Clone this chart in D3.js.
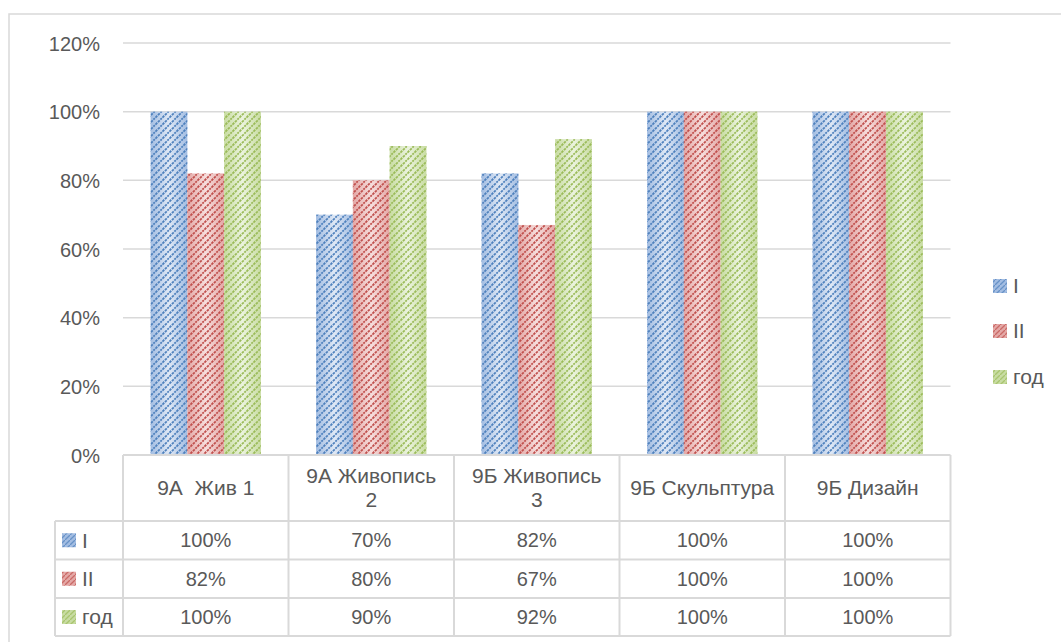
<!DOCTYPE html>
<html><head><meta charset="utf-8">
<script src="https://cdn.jsdelivr.net/npm/d3@7"></script>
<style>
html,body{margin:0;padding:0;background:#fff;}
svg{display:block;font-family:"Liberation Sans",Arial,sans-serif;}
text{white-space:pre;}
</style></head>
<body>
<svg id="chart" width="1061" height="642"></svg>
<script>
const categories = ["9А  Жив 1", "9А Живопись\n2", "9Б Живопись\n3", "9Б Скульптура", "9Б Дизайн"];
const seriesNames = ["I", "II", "год"];
const valuesI   = [1.00, 0.70, 0.82, 1.00, 1.00];
const valuesII  = [0.82, 0.80, 0.67, 1.00, 1.00];
const valuesGod = [1.00, 0.90, 0.92, 1.00, 1.00];
const yTicks = [0, 0.2, 0.4, 0.6, 0.8, 1.0, 1.2];
const tableLabels = [["100%","70%","82%","100%","100%"],["82%","80%","67%","100%","100%"],["100%","90%","92%","100%","100%"]];

(function(){
const series = [valuesI, valuesII, valuesGod];
const palette = [
  {dark:"#4f81bd", edge:"#a3bde2", light:"#dfe8f5"},
  {dark:"#c0504d", edge:"#e4a8a6", light:"#f6dedd"},
  {dark:"#9bbb59", edge:"#c8dca2", light:"#ebf3de"}
];
const txt = "#595959", grid = "#d9d9d9";
const svg = d3.select("#chart");
const defs = svg.append("defs");
palette.forEach((p,i)=>{
  const g = defs.append("linearGradient").attr("id","grad"+i).attr("x1","0").attr("x2","1").attr("y1","0").attr("y2","0");
  g.append("stop").attr("offset","0").attr("stop-color",p.edge);
  g.append("stop").attr("offset","0.5").attr("stop-color",p.light);
  g.append("stop").attr("offset","1").attr("stop-color",p.edge);
  const pat = defs.append("pattern").attr("id","pat"+i).attr("patternUnits","userSpaceOnUse").attr("width",7).attr("height",7);
  pat.append("path").attr("d","M-1,8 L8,-1").attr("stroke",p.dark).attr("stroke-width",1.8).attr("stroke-dasharray","2.5,1");
  pat.append("path").attr("d","M-1,1 L1,-1 M6,8 L8,6").attr("stroke",p.dark).attr("stroke-width",1.8);
  const lp = defs.append("pattern").attr("id","lpat"+i).attr("patternUnits","userSpaceOnUse").attr("width",5).attr("height",5);
  lp.append("rect").attr("width",5).attr("height",5).attr("fill",p.edge);
  lp.append("path").attr("d","M-1,6 L6,-1").attr("stroke",p.dark).attr("stroke-width",1.3).attr("stroke-opacity",0.7);
});

svg.append("path").attr("d","M9,642 L9,14 L1061,14").attr("fill","none").attr("stroke",grid).attr("stroke-width",1.5);

const pL = 123, pR = 950.5, pT = 43, pB = 455;
const x = d3.scaleBand().domain(categories).range([pL,pR]).paddingInner(0).paddingOuter(0);
const y = d3.scaleLinear().domain([0,1.2]).range([pB,pT]);
const sub = d3.scaleBand().domain(d3.range(3)).range([0,x.bandwidth()]).paddingInner(0).paddingOuter(0.75);

svg.append("g").selectAll("line").data(yTicks.filter(t=>t>0)).join("line")
  .attr("x1",pL).attr("x2",pR).attr("y1",d=>y(d)).attr("y2",d=>y(d))
  .attr("stroke",grid).attr("stroke-width",1.5);

const yAxis = d3.axisLeft(y).tickValues(yTicks).tickFormat(d=>Math.round(d*100)+"%").tickSize(0).tickPadding(0);
const ya = svg.append("g").attr("transform","translate(100,0)").call(yAxis);
ya.select(".domain").remove();
ya.selectAll("text").attr("fill",txt).style("font-size","20px").style("font-family","'Liberation Sans',Arial,sans-serif").attr("dy","0.35em");

series.forEach((vals,si)=>{
  const g = svg.append("g");
  const bx = d=>x(d.c)+sub(si);
  const data = categories.map((c,i)=>({c, v:vals[i]}));
  g.selectAll("rect.b").data(data).join("rect").attr("class","b")
    .attr("x",bx).attr("width",sub.bandwidth()).attr("y",d=>y(d.v)).attr("height",d=>y(0)-y(d.v))
    .attr("fill","url(#grad"+si+")");
  g.selectAll("rect.p").data(data).join("rect").attr("class","p")
    .attr("x",bx).attr("width",sub.bandwidth()).attr("y",d=>y(d.v)).attr("height",d=>y(0)-y(d.v))
    .attr("fill","url(#pat"+si+")");
});

const rowTops = [521, 559.5, 598];
const tableBottom = 636;
const keyLeft = 55;
const fs = "21px";
const tg = svg.append("g");
tg.append("line").attr("x1",pL).attr("x2",pR).attr("y1",pB).attr("y2",pB).attr("stroke",grid).attr("stroke-width",2);
rowTops.concat([tableBottom]).forEach(yy=>{
  tg.append("line").attr("x1",keyLeft).attr("x2",pR).attr("y1",yy).attr("y2",yy).attr("stroke",grid).attr("stroke-width",2);
});
tg.append("line").attr("x1",keyLeft).attr("x2",keyLeft).attr("y1",rowTops[0]).attr("y2",tableBottom).attr("stroke",grid).attr("stroke-width",2);
categories.forEach(c=>{
  tg.append("line").attr("x1",x(c)).attr("x2",x(c)).attr("y1",pB).attr("y2",tableBottom).attr("stroke",grid).attr("stroke-width",2);
});
tg.append("line").attr("x1",pR).attr("x2",pR).attr("y1",pB).attr("y2",tableBottom).attr("stroke",grid).attr("stroke-width",2);

categories.forEach(c=>{
  const lines = c.split("\n");
  const cy = (pB+rowTops[0])/2;
  const lh = 24;
  const t = tg.append("text").attr("text-anchor","middle").attr("fill",txt).style("font-size",fs);
  lines.forEach((ln,i)=>{
    t.append("tspan").attr("x",x(c)+x.bandwidth()/2).attr("y",cy+(i-(lines.length-1)/2)*lh).attr("dy","0.35em").text(ln);
  });
});
tableLabels.forEach((row,ri)=>{
  const cy = rowTops[ri] + (((ri<2? rowTops[ri+1]:tableBottom) - rowTops[ri]))/2;
  row.forEach((val,ci)=>{
    tg.append("text").attr("x",x(categories[ci])+x.bandwidth()/2).attr("y",cy).attr("dy","0.35em")
      .attr("text-anchor","middle").attr("fill",txt).style("font-size","20px").text(val);
  });
  tg.append("rect").attr("x",62).attr("y",cy-7).attr("width",14).attr("height",14).attr("fill","url(#lpat"+ri+")");
  tg.append("text").attr("x",82).attr("y",cy).attr("dy","0.35em").attr("fill",txt).style("font-size",fs).text(seriesNames[ri]);
});

const legY = [286, 331, 377];
seriesNames.forEach((n,i)=>{
  svg.append("rect").attr("x",993).attr("y",legY[i]-7).attr("width",14).attr("height",14).attr("fill","url(#lpat"+i+")");
  svg.append("text").attr("x",1013).attr("y",legY[i]).attr("dy","0.35em").attr("fill",txt).style("font-size",fs).text(n);
});
})();
</script>
</body></html>
